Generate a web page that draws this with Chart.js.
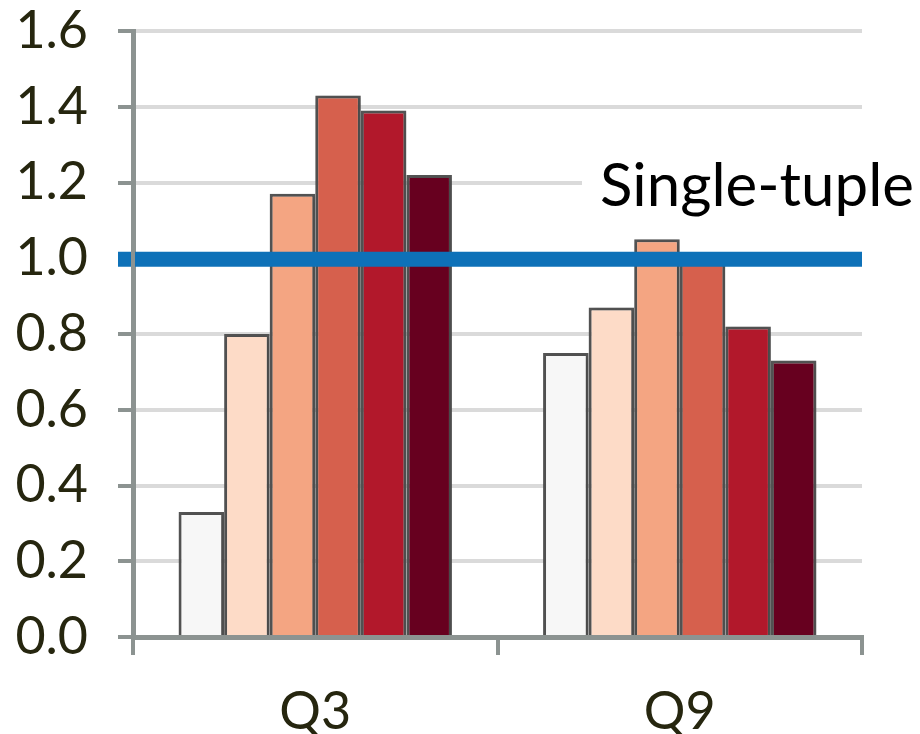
<!DOCTYPE html>
<html lang="en">

<head>
    <meta charset="UTF-8">
    <title>Q3 / Q9 relative time</title>
    <script src="https://cdn.jsdelivr.net/npm/chart.js"></script>
    <style>
        html, body {
            margin: 0;
            padding: 0;
            background: #fff;
        }

        #wrap {
            width: 920px;
            height: 734px;
        }
    </style>
</head>

<body>
    <div id="wrap"><canvas id="barChart"></canvas></div>

    <script>
        // data
        const categories = ['Q3', 'Q9'];
        const series1 = [0.33, 0.75];
        const series2 = [0.80, 0.87];
        const series3 = [1.17, 1.05];
        const series4 = [1.43, 1.00];
        const series5 = [1.39, 0.82];
        const series6 = [1.22, 0.73];
        const yTicks = [0, 0.2, 0.4, 0.6, 0.8, 1.0, 1.2, 1.4, 1.6];
        const baselineValue = 1.0;
        const baselineLabel = 'Single-tuple';

        const fillColors = ['#f7f7f7', '#fddbc7', '#f4a582', '#d6604d', '#b2182b', '#67001f'];
        const axisGray = '#8c9391';
        const fontFamily = 'Lato, "Open Sans", sans-serif';

        const allSeries = [series1, series2, series3, series4, series5, series6];

        // blue reference line + its label, drawn on top of the bars
        const baselinePlugin = {
            id: 'baseline',
            beforeDatasetsDraw(chart) {
                const ctx = chart.ctx;
                ctx.save();
                ctx.shadowColor = 'rgba(0,0,0,0.22)';
                ctx.shadowBlur = 6;
                ctx.shadowOffsetX = 1;
                ctx.shadowOffsetY = 1;
            },
            afterDatasetsDraw(chart) {
                const ctx = chart.ctx;
                ctx.restore();
                const area = chart.chartArea;
                const y = chart.scales.y.getPixelForValue(baselineValue);
                const yText = chart.scales.y.getPixelForValue(1.2);

                ctx.save();
                // label with white box hiding the grid line
                ctx.font = '60px ' + fontFamily;
                ctx.textBaseline = 'middle';
                ctx.textAlign = 'left';
                const w = ctx.measureText(baselineLabel).width;
                ctx.fillStyle = '#fff';
                ctx.fillRect(582, yText - 30, chart.width - 582, 60);
                ctx.fillStyle = '#000';
                ctx.fillText(baselineLabel, chart.width - 6 - w, yText + 4);

                ctx.strokeStyle = '#0e71b8';
                ctx.lineWidth = 15;
                ctx.beginPath();
                ctx.moveTo(area.left - 15, y + 1);
                ctx.lineTo(area.right, y + 1);
                ctx.stroke();

                // y axis line stays on top of the blue line
                ctx.strokeStyle = axisGray;
                ctx.lineWidth = 4;
                ctx.beginPath();
                ctx.moveTo(area.left, y - 9);
                ctx.lineTo(area.left, y + 10);
                ctx.stroke();
                ctx.restore();
            }
        };

        const ctx = document.getElementById('barChart').getContext('2d');
        new Chart(ctx, {
            type: 'bar',
            data: {
                labels: categories,
                datasets: allSeries.map((values, i) => ({
                    label: 'S' + (i + 1),
                    data: values,
                    backgroundColor: fillColors[i],
                    borderColor: '#555555',
                    borderWidth: 3,
                    borderSkipped: 'bottom',
                    barPercentage: 1.0,
                    categoryPercentage: 0.75
                }))
            },
            options: {
                responsive: true,
                maintainAspectRatio: false,
                animation: false,
                layout: {
                    padding: { left: 0, right: 58, top: 31, bottom: 0 }
                },
                plugins: {
                    legend: { display: false },
                    tooltip: { enabled: false }
                },
                scales: {
                    x: {
                        grid: {
                            offset: true,
                            drawOnChartArea: false,
                            color: axisGray,
                            tickColor: axisGray,
                            tickLength: 18,
                            lineWidth: 4,
                            tickWidth: 4
                        },
                        border: { color: axisGray, width: 5 },
                        ticks: {
                            color: '#26260f',
                            font: { family: fontFamily, size: 52 },
                            padding: 26
                        },
                        afterFit(scale) {
                            scale.height = 97;
                            scale.paddingLeft = 0;
                            scale.paddingRight = 0;
                        }
                    },
                    y: {
                        min: 0,
                        max: 1.6,
                        afterBuildTicks(scale) {
                            scale.ticks = yTicks.map(v => ({ value: v }));
                        },
                        grid: {
                            color: '#dadada',
                            tickColor: axisGray,
                            tickLength: 15,
                            lineWidth: 4,
                            tickWidth: 4
                        },
                        border: { color: axisGray, width: 5 },
                        ticks: {
                            color: '#26260f',
                            font: { family: fontFamily, size: 52 },
                            padding: 30,
                            callback: v => Number(v).toFixed(1)
                        },
                        afterFit(scale) {
                            scale.width = 133;
                            scale.paddingTop = 0;
                            scale.paddingBottom = 0;
                        }
                    }
                }
            },
            plugins: [baselinePlugin]
        });
    </script>
</body>

</html>
